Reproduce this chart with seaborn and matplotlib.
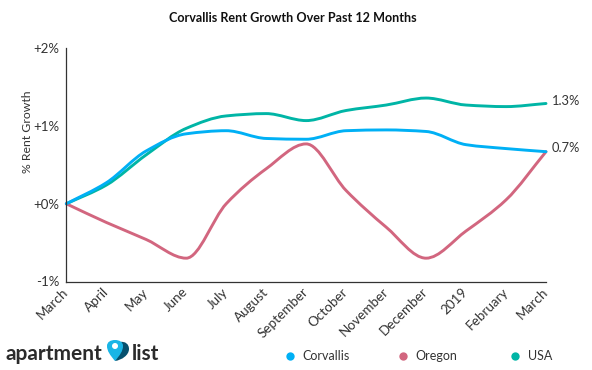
import numpy as np
import pandas as pd
import seaborn as sns
import matplotlib.pyplot as plt
from matplotlib.lines import Line2D
from matplotlib.patches import PathPatch, Circle
from matplotlib.path import Path
from matplotlib.transforms import ScaledTranslation

# Values
months = ['March', 'April', 'May', 'June', 'July', 'August', 'September',
          'October', 'November', 'December', '2019', 'February', 'March']
corvallis = [0, 0.27, 0.68, 0.90, 0.94, 0.84, 0.83, 0.94, 0.95, 0.93, 0.76, 0.71, 0.67]
oregon = [0, -0.24, -0.46, -0.70, 0.00, 0.45, 0.77, 0.17, -0.30, -0.70, -0.35, 0.05, 0.67]
usa = [0, 0.24, 0.63, 0.97, 1.13, 1.16, 1.07, 1.20, 1.27, 1.36, 1.27, 1.25, 1.29]
y_ticks = [-1, 0, 1, 2]
y_labels = ['-1%', '+0%', '+1%', '+2%']

colors = {'Corvallis': '#00b0f5', 'Oregon': '#d2667f', 'USA': '#00b5a6'}
text_col = '#333333'

sns.set_style('white')
plt.rcParams['font.family'] = ['Lato', 'DejaVu Sans']

df = pd.DataFrame({'pos': range(len(months)), 'Corvallis': corvallis, 'Oregon': oregon, 'USA': usa})
df = df.melt(id_vars='pos', var_name='area', value_name='growth')


def monotone_path(x, y):
    # bezier through the monthly values, flat at local peaks and dips
    x, y = np.asarray(x, float), np.asarray(y, float)
    h = np.diff(x)
    s = np.diff(y) / h
    m = np.zeros(len(y))
    m[0], m[-1] = s[0], s[-1]
    for i in range(1, len(y) - 1):
        if s[i - 1] * s[i] > 0:
            m[i] = 2 * s[i - 1] * s[i] / (s[i - 1] + s[i])
    verts = [(x[0], y[0])]
    codes = [Path.MOVETO]
    for i in range(len(h)):
        verts += [(x[i] + h[i] / 3, y[i] + m[i] * h[i] / 3),
                  (x[i + 1] - h[i] / 3, y[i + 1] - m[i + 1] * h[i] / 3),
                  (x[i + 1], y[i + 1])]
        codes += [Path.CURVE4] * 3
    return Path(verts, codes)


fig = plt.figure(figsize=(5.92, 3.70), dpi=100)
ax = fig.add_axes([66.3 / 592, 1 - 281.5 / 370, (546 - 66.3) / 592, (281.5 - 48.3) / 370])

sns.lineplot(data=df, x='pos', y='growth', hue='area', hue_order=['USA', 'Oregon', 'Corvallis'],
             palette=colors, legend=False, ax=ax)

# seaborn places the monthly values, the smooth curve replaces the straight segments
for line, name in zip(ax.get_lines(), ['USA', 'Oregon', 'Corvallis']):
    xy = line.get_xydata()
    line.set_visible(False)
    ax.add_patch(PathPatch(monotone_path(xy[:, 0], xy[:, 1]), fill=False, edgecolor=colors[name],
                           lw=2.1, capstyle='round', clip_on=False))

ax.set_xlim(0, len(months) - 1)
ax.set_ylim(-1, 2)
ax.set_xticks(range(len(months)))
ax.set_xticklabels(months, rotation=45, ha='right', va='center', rotation_mode='anchor',
                   fontsize=9.7, color=text_col)
shift = ScaledTranslation(-0.5 / 100, 0, fig.dpi_scale_trans)
for lab in ax.get_xticklabels():
    lab.set_transform(lab.get_transform() + shift)
ax.set_yticks(y_ticks)
ax.set_yticklabels(y_labels, fontsize=9.5, color=text_col)
ax.tick_params(axis='x', direction='in', length=3.5, width=0.8, color=text_col, pad=6)
ax.tick_params(axis='y', direction='out', length=4, width=0.8, color=text_col, pad=1)
ax.set_xlabel('')
ax.set_ylabel('% Rent Growth', fontsize=8.8, color=text_col, y=0.643)
ax.yaxis.set_label_coords((33 - 66.3) / (546 - 66.3), 0.643)
sns.despine(ax=ax)
for side in ['left', 'bottom']:
    ax.spines[side].set_color(text_col)
    ax.spines[side].set_linewidth(0.9)

# end labels
ax.annotate('1.3%', (12, usa[-1]), xytext=(4, 2), textcoords='offset points', va='center',
            fontsize=9.3, color=text_col, annotation_clip=False)
ax.annotate('0.7%', (12, corvallis[-1]), xytext=(4, 2.5), textcoords='offset points', va='center',
            fontsize=9.3, color=text_col, annotation_clip=False)

fig.text(292.5 / 592, 1 - 18 / 370, 'Corvallis Rent Growth Over Past 12 Months', ha='center', va='center',
         fontsize=9.1, fontweight='bold', color='#111111')

# legend
for name, dot_x, text_x in [('Corvallis', 290, 302), ('Oregon', 403, 415), ('USA', 515, 528)]:
    fig.add_artist(Line2D([dot_x / 592], [1 - 356 / 370], marker='o', ms=6, color=colors[name],
                          mec='none', ls='none', transform=fig.transFigure))
    fig.text(text_x / 592, 1 - 356 / 370, name, ha='left', va='center', fontsize=9, color=text_col)

# logo
fig.text(6 / 592, 1 - 360 / 370, 'apartment', ha='left', va='baseline', fontsize=15, fontweight='bold', color='#2b2b2b')
fig.text(131.5 / 592, 1 - 360 / 370, 'list', ha='left', va='baseline', fontsize=15, fontweight='bold', color='#2b2b2b')
logo = fig.add_axes([104 / 592, 1 - 365 / 370, 28 / 592, 28 / 370])
logo.set_xlim(104, 132)
logo.set_ylim(365, 337)
logo.axis('off')
logo.add_patch(PathPatch(Path([(120, 342), (125, 341), (129, 344), (129, 349), (129, 355), (122, 360), (115, 361)],
                              [Path.MOVETO] + [Path.CURVE4] * 6), fc='#06506e', ec='none'))
logo.add_patch(PathPatch(Path([(115, 361), (110, 355), (107, 351), (107, 346), (107, 342), (110.5, 340), (115, 340),
                               (119.5, 340), (123, 342), (123, 346), (123, 351), (120, 355), (115, 361)],
                              [Path.MOVETO] + [Path.CURVE4] * 12), fc='#19b5e6', ec='none'))
logo.add_patch(Circle((115, 346), 3, fc='white', ec='none'))

fig.savefig('out.png', dpi=100)
